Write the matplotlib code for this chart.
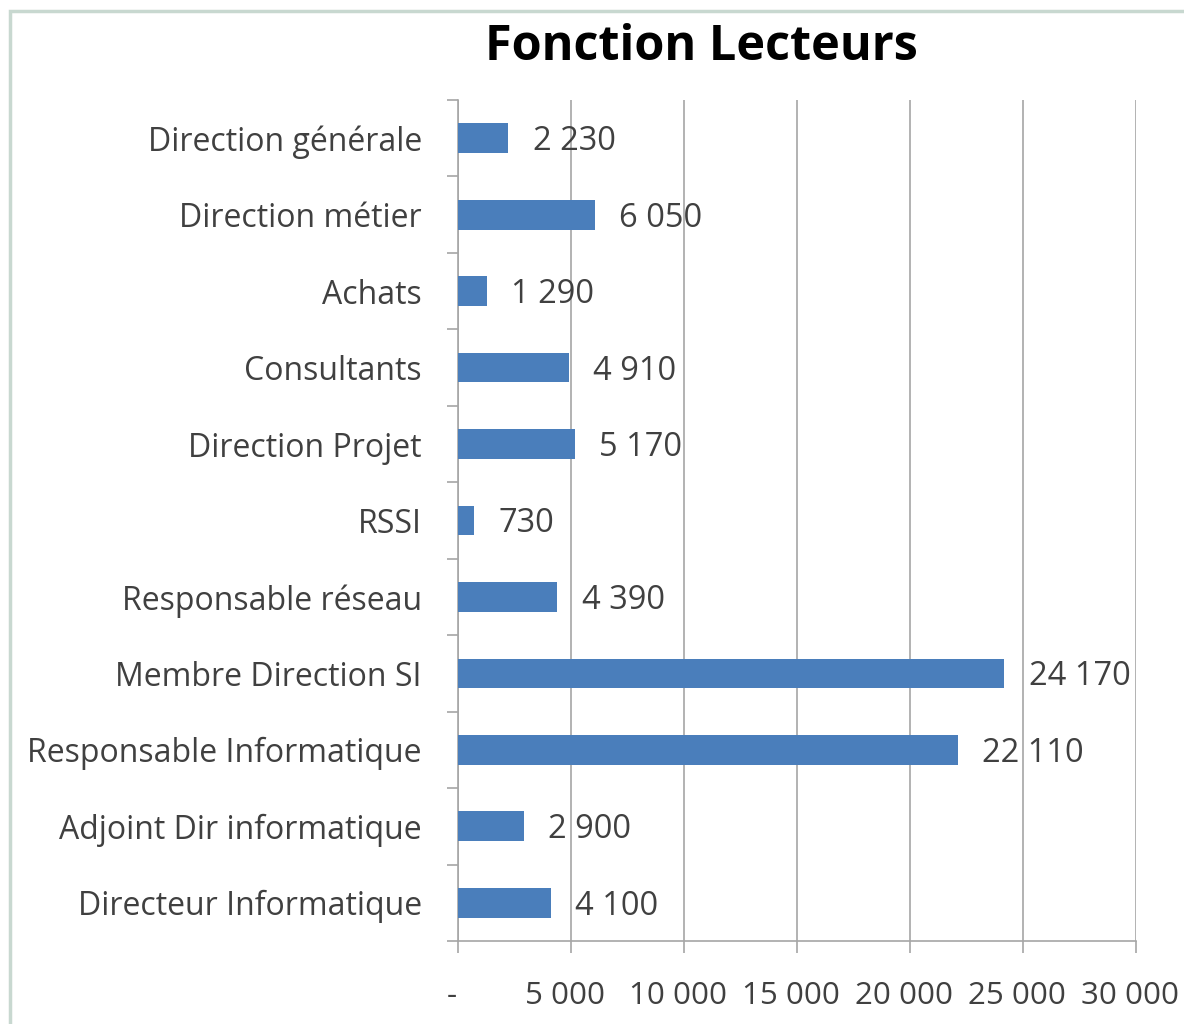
import matplotlib.pyplot as plt
import matplotlib.patches as mpatches
import matplotlib.transforms as mtransforms
from matplotlib.ticker import FuncFormatter, FixedLocator, NullFormatter

# Data (top to bottom as shown)
categories = ['Direction générale', 'Direction métier', 'Achats', 'Consultants',
              'Direction Projet', 'RSSI', 'Responsable réseau', 'Membre Direction SI',
              'Responsable Informatique', 'Adjoint Dir informatique', 'Directeur Informatique']
values = [2230, 6050, 1290, 4910, 5170, 730, 4390, 24170, 22110, 2900, 4100]
x_ticks = [0, 5000, 10000, 15000, 20000, 25000, 30000]

plt.rcParams['font.family'] = ['Open Sans', 'DejaVu Sans']
txt_color = '#404040'
bar_color = '#4a7ebb'
grid_color = '#a6a6a6'


def fmt(v, pos=None):
    if v == 0:
        return '-'
    return f'{int(v):,}'.replace(',', ' ')


fig = plt.figure(figsize=(11.84, 10.24), dpi=100)
W, H = 1184, 1024

# outer frame
fig.patches.append(mpatches.Rectangle((10 / W, -0.05), 1.2, 1 - 11 / H + 0.05,
                                      transform=fig.transFigure, fill=False,
                                      edgecolor='#c8d8d0', linewidth=2.5))

ax = fig.add_axes([458 / W, 1 - 941 / H, (1136 - 458) / W, (941 - 100) / H])

n = len(categories)
ypos = list(range(n))[::-1]
ax.barh(ypos, values, height=0.39, color=bar_color, zorder=3)

for y, v in zip(ypos, values):
    ax.annotate(fmt(v), (v, y), xytext=(17.5, -2.5), textcoords='offset points',
                ha='left', va='center', fontsize=23.5, color=txt_color, zorder=4)

ax.set_xlim(0, 30000)
ax.set_ylim(-0.5, n - 0.5)
ax.xaxis.set_major_locator(FixedLocator(x_ticks))
ax.xaxis.set_major_formatter(FuncFormatter(fmt))
ax.grid(axis='x', color=grid_color, linewidth=1.2, zorder=0)

ax.set_yticks(ypos)
ax.set_yticklabels(categories)
ax.yaxis.set_minor_locator(FixedLocator([i - 0.5 for i in range(n + 1)]))
ax.yaxis.set_minor_formatter(NullFormatter())

ax.tick_params(axis='y', which='major', length=0, pad=26, labelsize=23, labelcolor=txt_color)
ax.tick_params(axis='y', which='minor', length=8, width=1.2, color=grid_color, direction='out')
ax.tick_params(axis='x', which='major', length=8.5, width=1.2, color=grid_color,
               direction='out', pad=20, labelsize=22.5, labelcolor=txt_color)

# shift x tick labels slightly left, like the original
offset = mtransforms.ScaledTranslation(-6 / 100, 0, fig.dpi_scale_trans)
for lab in ax.get_xticklabels():
    lab.set_transform(lab.get_transform() + offset)

for s in ['top', 'right']:
    ax.spines[s].set_visible(False)
for s in ['left', 'bottom']:
    ax.spines[s].set_color(grid_color)
    ax.spines[s].set_linewidth(1.2)

fig.text(701 / W, 1 - 48 / H, 'Fonction Lecteurs', ha='center', va='center',
         fontsize=35, fontweight='bold', color='black')

fig.savefig('out.png', dpi=100)
